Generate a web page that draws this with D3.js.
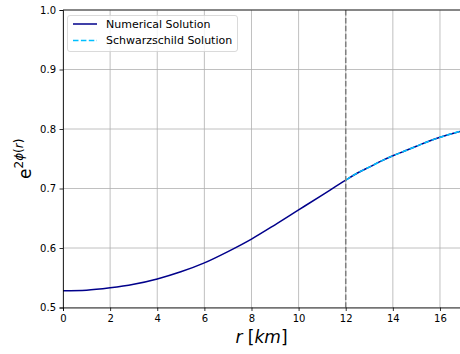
<!DOCTYPE html>
<html><head><meta charset="utf-8">
<script src="https://cdn.jsdelivr.net/npm/d3@7"></script>
<style>body{margin:0;background:#fff}svg{display:block}text{font-family:"DejaVu Sans",sans-serif}</style>
</head><body><svg id="c" width="460" height="354"></svg>
<script>
const numR = [0,1,2,3,4,5,6,7,8,9,10,11,12,12.5,13,13.5,14,14.5,15,15.5,16,16.5,16.85];
const numV = [0.528,0.529,0.533,0.539,0.548,0.560,0.575,0.594,0.615,0.639,0.664,0.689,0.714,0.726,0.736,0.746,0.755,0.763,0.771,0.779,0.786,0.792,0.796];
const schR = [12,12.5,13,13.5,14,14.5,15,15.5,16,16.5,16.85];
const schV = [0.714,0.726,0.736,0.746,0.755,0.763,0.771,0.779,0.786,0.792,0.796];
const xTicks = [0,2,4,6,8,10,12,14,16];
const yTicks = [0.5,0.6,0.7,0.8,0.9,1.0];
const radius = 12;
const legendLabels = ["Numerical Solution","Schwarzschild Solution"];

const svg = d3.select("#c");
const L=63,R=460,T=10,B=307.5;
const x = d3.scaleLinear().domain([0,16.85]).range([L,R]);
const y = d3.scaleLinear().domain([0.5,1.0]).range([B,T]);

// grid
svg.append("g").selectAll("line").data(xTicks).join("line")
  .attr("x1",d=>x(d)).attr("x2",d=>x(d)).attr("y1",T).attr("y2",B)
  .attr("stroke","#b0b0b0").attr("stroke-width",0.8);
svg.append("g").selectAll("line").data(yTicks).join("line")
  .attr("x1",L).attr("x2",R).attr("y1",d=>y(d)).attr("y2",d=>y(d))
  .attr("stroke","#b0b0b0").attr("stroke-width",0.8);

const line = d3.line().x(d=>x(d[0])).y(d=>y(d[1]));
svg.append("path").datum(numR.map((r,i)=>[r,numV[i]]))
  .attr("d",line.curve(d3.curveMonotoneX)).attr("fill","none").attr("stroke","#00008b").attr("stroke-width",1.5);
svg.append("path").datum(schR.map((r,i)=>[r,schV[i]]))
  .attr("d",line.curve(d3.curveMonotoneX)).attr("fill","none").attr("stroke","#00bfff").attr("stroke-width",1.5)
  .attr("stroke-dasharray","5.5,2.4");
svg.append("line").attr("x1",x(radius)).attr("x2",x(radius)).attr("y1",T).attr("y2",B)
  .attr("stroke","#808080").attr("stroke-width",1.5).attr("stroke-dasharray","5.5,2.4");

// axes
const xa = svg.append("g").attr("transform",`translate(0,${B})`)
  .call(d3.axisBottom(x).tickValues(xTicks).tickSize(3.5).tickPadding(3.5).tickFormat(d3.format("d")));
const ya = svg.append("g").attr("transform",`translate(${L},0)`)
  .call(d3.axisLeft(y).tickValues(yTicks).tickSize(3.5).tickPadding(3.5).tickFormat(d3.format(".1f")));
[xa,ya].forEach(a=>{a.select(".domain").attr("stroke","#000").attr("stroke-width",0.8);
  a.selectAll(".tick line").attr("stroke","#000").attr("stroke-width",0.8);
  a.selectAll("text").attr("font-size",10).attr("fill","#000").attr("font-family","DejaVu Sans");});
svg.append("line").attr("x1",L).attr("x2",R).attr("y1",T).attr("y2",T).attr("stroke","#000").attr("stroke-width",0.8);

// labels
const xl = svg.append("text").attr("x",(L+R)/2).attr("y",343).attr("text-anchor","middle")
  .attr("font-size",17).attr("fill","#000");
xl.append("tspan").attr("font-style","italic").text("r");
xl.append("tspan").text(" [");
xl.append("tspan").attr("font-style","italic").text("km");
xl.append("tspan").text("]");
const yl = svg.append("text").attr("transform",`translate(31,${(T+B)/2}) rotate(-90)`).attr("text-anchor","middle")
  .attr("font-size",17).attr("fill","#000");
yl.append("tspan").text("e");
yl.append("tspan").attr("font-size",12).attr("dy",-8).text("2");
yl.append("tspan").attr("font-size",12).attr("font-style","italic").text("ϕ");
yl.append("tspan").attr("font-size",12).text("(");
yl.append("tspan").attr("font-size",12).attr("font-style","italic").text("r");
yl.append("tspan").attr("font-size",12).text(")");

// legend
const lg = svg.append("g");
lg.append("rect").attr("x",67.5).attr("y",15.5).attr("width",170).attr("height",36).attr("rx",2.5)
  .attr("fill","#fff").attr("fill-opacity",0.8).attr("stroke","#d0d0d0").attr("stroke-width",0.8);
const styles=[{c:"#00008b",d:null},{c:"#00bfff",d:"5.5,2.4"}];
legendLabels.forEach((t,i)=>{
  const yy = 24 + i*16.5;
  lg.append("line").attr("x1",73).attr("x2",97).attr("y1",yy).attr("y2",yy)
    .attr("stroke",styles[i].c).attr("stroke-width",1.5).attr("stroke-dasharray",styles[i].d);
  lg.append("text").attr("x",106).attr("y",yy).attr("dy","0.35em").attr("font-size",11).attr("fill","#000").text(t);
});
</script></body></html>
